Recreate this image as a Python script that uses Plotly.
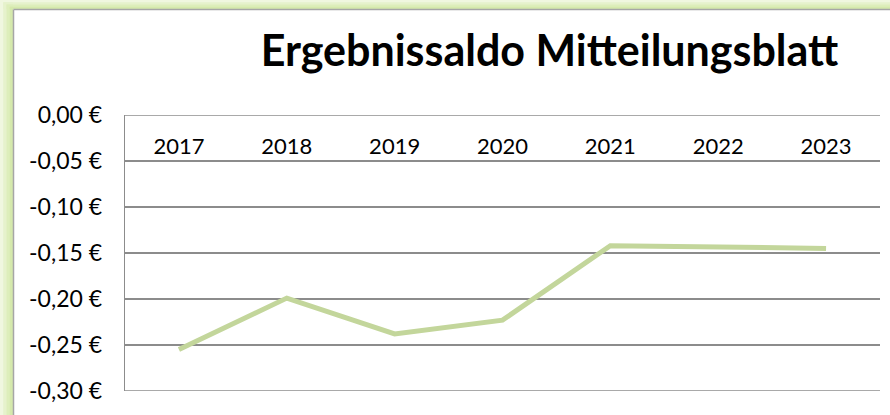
import plotly.graph_objects as go

years = ["2017", "2018", "2019", "2020", "2021", "2022", "2023"]
saldo = [-0.255, -0.199, -0.238, -0.223, -0.142, -0.143, -0.145]
y_ticks = [0.0, -0.05, -0.10, -0.15, -0.20, -0.25, -0.30]
y_labels = ["0,00 €", "-0,05 €", "-0,10 €", "-0,15 €", "-0,20 €", "-0,25 €", "-0,30 €"]

W, H = 890, 415
ML, MR, MT, MB = 125, 10, 115, 24
PW = W - ML - MR
PH = H - MT - MB
GRID = "#8c8c8c"

def px_x(p):
    return (p - ML) / PW

def px_y(p):
    return 1 - (p - MT) / PH

fig = go.Figure()
fig.add_trace(go.Scatter(
    x=years, y=saldo, mode="lines",
    line=dict(color="#c3d69b", width=5),
    hoverinfo="skip", showlegend=False,
))

shapes = []
# green glow frame (left and top)
glow = ["#f0f7e0", "#e6f2cc", "#ddeebb", "#d5e9ac"]
n = len(glow)
for i, c in enumerate(glow):
    x0 = 13 * i / n
    y0 = 9 * i / n
    shapes.append(dict(type="rect", xref="paper", yref="paper",
                       x0=px_x(x0), x1=px_x(13), y0=px_y(H + 5), y1=px_y(y0),
                       line=dict(width=0), fillcolor=c, layer="below"))
    shapes.append(dict(type="rect", xref="paper", yref="paper",
                       x0=px_x(x0), x1=px_x(W + 5), y0=px_y(9), y1=px_y(y0),
                       line=dict(width=0), fillcolor=c, layer="below"))
# grey chart border
shapes.append(dict(type="line", xref="paper", yref="paper",
                   x0=px_x(13.5), x1=px_x(13.5), y0=px_y(H + 5), y1=px_y(9.5),
                   line=dict(color="#a6a6a6", width=1.5)))
shapes.append(dict(type="line", xref="paper", yref="paper",
                   x0=px_x(13.5), x1=px_x(W + 5), y0=px_y(9.5), y1=px_y(9.5),
                   line=dict(color="#a6a6a6", width=1.5)))
# gridlines at the two ends of the value axis (plotly skips edge gridlines)
for yv in (y_ticks[0], y_ticks[-1]):
    shapes.append(dict(type="line", xref="paper", yref="y",
                       x0=0, x1=1, y0=yv, y1=yv,
                       line=dict(color=GRID, width=1.3), layer="below"))

fig.update_layout(
    width=W, height=H,
    margin=dict(l=ML, r=MR, t=MT, b=MB),
    paper_bgcolor="white", plot_bgcolor="white",
    font=dict(family="Lato, Carlito, sans-serif", color="#000000", size=22),
    title=dict(text="<b>Ergebnissaldo Mitteilungsblatt</b>",
               font=dict(family="Lato, sans-serif", size=43, color="#000000"),
               x=549.5 / W, xref="container", xanchor="center",
               y=1 - 51 / H, yref="container", yanchor="middle"),
    xaxis=dict(
        type="category", categoryorder="array", categoryarray=years,
        anchor="free", position=1, side="bottom",
        showgrid=False, showline=False, zeroline=False,
        ticks="", tickfont=dict(size=22),
        ticklabelstandoff=16,
        range=[-0.5, 6.5], fixedrange=True,
    ),
    yaxis=dict(
        range=[-0.30, 0.0],
        tickvals=y_ticks, ticktext=y_labels,
        showgrid=True, gridcolor=GRID, gridwidth=1.3,
        showline=True, linecolor=GRID, linewidth=1.3,
        zeroline=False, ticks="", ticklabelstandoff=17,
        tickfont=dict(size=23), fixedrange=True,
    ),
    shapes=shapes,
    showlegend=False,
)

fig.write_html(
    "out.html",
    config={"displayModeBar": False, "staticPlot": True},
    post_script="document.body.style.margin='0';document.body.style.overflow='hidden';",
)
